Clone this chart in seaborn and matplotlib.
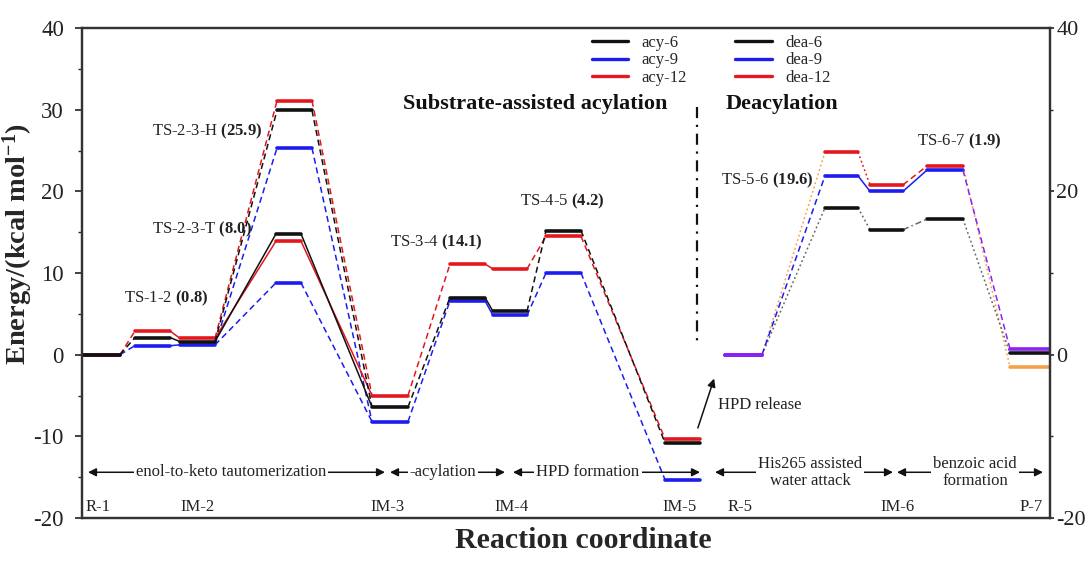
import numpy as np
import pandas as pd
import seaborn as sns
import matplotlib
matplotlib.use("Agg")
import matplotlib.pyplot as plt
from matplotlib.lines import Line2D

# ---------------- data ----------------
acy_points = ["R-1", "TS-1-2", "IM-2", "TS-2-3-T", "TS-2-3-H", "IM-3", "TS-3-4", "IM-4", "TS-4-5", "IM-5"]
acy6 = [0.0, 2.1, 1.6, 14.8, 29.9, -6.4, 7.0, 5.3, 15.2, -10.8]
acy9 = [0.0, 1.1, 1.2, 8.8, 25.3, -8.2, 6.6, 4.8, 10.0, -15.3]
acy12 = [0.0, 2.9, 2.0, 13.9, 31.1, -5.0, 11.1, 10.5, 14.5, -10.3]

dea_points = ["R-5", "TS-5-6", "IM-6", "TS-6-7", "P-7"]
dea6 = [0.0, 18.0, 15.3, 16.6, 0.2]
dea9 = [0.0, 21.9, 20.0, 22.6, 0.7]
dea12 = [0.0, 24.8, 20.8, 23.1, -1.5]

ts_labels = ["TS-1-2", "TS-2-3-T", "TS-2-3-H", "TS-3-4", "TS-4-5", "TS-5-6", "TS-6-7"]
ts_barriers = ["0.8", "8.0", "25.9", "14.1", "4.2", "19.6", "1.9"]

bottom_labels = ["R-1", "IM-2", "IM-3", "IM-4", "IM-5", "R-5", "IM-6", "P-7"]
stage_labels = ["enol-to-keto tautomerization", "-acylation", "HPD formation",
                "His265 assisted\nwater attack", "benzoic acid\nformation"]
legend_labels = ["acy-6", "acy-9", "acy-12", "dea-6", "dea-9", "dea-12"]

# ---------------- layout (reaction-coordinate positions) ----------------
acy_x = {"R-1": (83, 120), "TS-1-2": (135, 170), "IM-2": (180, 215),
         "TS-2-3-T": (276, 301), "TS-2-3-H": (277, 312), "IM-3": (372, 408),
         "TS-3-4": (450, 485), "IM-4": (493, 527), "TS-4-5": (546, 581),
         "IM-5": (665, 700)}
dea_x = {"R-5": (725, 762), "TS-5-6": (825, 858), "IM-6": (870, 903),
         "TS-6-7": (927, 963), "P-7": (1010, 1050)}

C = {"black": "#111111", "blue": "#1c1cf0", "red": "#e3171d",
     "purple": "#8a22f5", "orange": "#f3a24a", "grey": "#666666"}

rows = []
seg = [0]

def add(x0, y0, x1, y1, color, style, kind):
    rows.append(dict(seg=seg[0], x=x0, E=y0, color=color, style=style, kind=kind))
    rows.append(dict(seg=seg[0], x=x1, E=y1, color=color, style=style, kind=kind))
    seg[0] += 1

acy_series = [("blue", acy9), ("red", acy12), ("black", acy6)]
acy_links = [("R-1", "TS-1-2", "dash"), ("TS-1-2", "IM-2", "solid"),
             ("IM-2", "TS-2-3-T", "solidT"), ("TS-2-3-T", "IM-3", "solidT"),
             ("IM-2", "TS-2-3-H", "dash"), ("TS-2-3-H", "IM-3", "dash"),
             ("IM-3", "TS-3-4", "dash"), ("TS-3-4", "IM-4", "solid"),
             ("IM-4", "TS-4-5", "dash"), ("TS-4-5", "IM-5", "dash")]
for col, vals in acy_series:
    v = dict(zip(acy_points, vals))
    for a, b, st in acy_links:
        if st == "solidT":
            st = "dash" if col == "blue" else "solid"
        add(acy_x[a][1], v[a], acy_x[b][0], v[b], col, st, "conn")
    for p in acy_points:
        add(acy_x[p][0], v[p], acy_x[p][1], v[p], col, "solid", "level")

dea_series = [("blue", dea9), ("red", dea12), ("black", dea6)]
dea_link_style = {
    "blue": [("blue", "dash"), ("blue", "solid"), ("blue", "solid"), ("purple", "dash")],
    "red": [("orange", "dot"), ("red", "dot"), ("red", "dash"), ("orange", "dot")],
    "black": [("grey", "dot"), ("grey", "dot"), ("grey", "dashdot"), ("grey", "dot")],
}
dea_level_color = {
    "blue": ["purple", "blue", "blue", "blue", "purple"],
    "red": ["purple", "red", "red", "red", "orange"],
    "black": ["purple", "black", "black", "black", "black"],
}
for col, vals in dea_series:
    for i in range(len(dea_points) - 1):
        a, b = dea_points[i], dea_points[i + 1]
        lc, st = dea_link_style[col][i]
        add(dea_x[a][1], vals[i], dea_x[b][0], vals[i + 1], lc, st, "conn")
    for i, p in enumerate(dea_points):
        add(dea_x[p][0], vals[i], dea_x[p][1], vals[i], dea_level_color[col][i], "solid", "level")

df = pd.DataFrame(rows)

# ---------------- style ----------------
sns.set_theme(style="ticks")
plt.rcParams["font.family"] = ["Liberation Serif", "DejaVu Serif"]
plt.rcParams["mathtext.fontset"] = "custom"
plt.rcParams["mathtext.rm"] = "Liberation Serif"
plt.rcParams["mathtext.bf"] = "Liberation Serif:bold"
plt.rcParams["mathtext.it"] = "Liberation Serif:italic"
plt.rcParams["axes.unicode_minus"] = False

fig = plt.figure(figsize=(10.88, 5.61), dpi=100)
ax = fig.add_axes([82 / 1088, 1 - 518 / 561, (1050 - 82) / 1088, (518 - 28) / 561])

sns.lineplot(data=df, x="x", y="E", hue="color", style="style", size="kind",
             units="seg", estimator=None, sort=False, legend=False,
             hue_order=["orange", "grey", "blue", "purple", "red", "black"],
             palette={k: C[k] for k in C},
             dashes={"solid": "", "dash": (4, 2.5), "dot": (1.2, 1.8), "dashdot": (4, 2, 1, 2)},
             sizes={"level": 2.6, "conn": 1.1}, ax=ax)

ax.set_xlim(82, 1050)
ax.set_ylim(-20, 40)
ax.set_xticks([])
ax.set_yticks(np.arange(-20, 41, 10))
ax.set_yticks(np.arange(-15, 40, 10), minor=True)
ax.tick_params(axis="y", labelsize=16.5, direction="out", length=5, width=1.2, pad=8, colors="#222222")
ax.tick_params(axis="y", which="minor", length=3, width=1)
for s in ax.spines.values():
    s.set_visible(True)
    s.set_linewidth(1.6)
    s.set_color("#333333")

ax2 = ax.twinx()
ax2.set_ylim(-20, 40)
ax2.set_yticks([-20, 0, 20, 40])
ax2.set_yticks([-10, 10, 30], minor=True)
ax2.tick_params(axis="y", labelsize=16, direction="out", length=3, width=1.2, pad=1.5, colors="#222222")
ax2.tick_params(axis="y", which="minor", length=2, width=1)
for s in ax2.spines.values():
    s.set_linewidth(1.6)
    s.set_color("#333333")

ax.set_xlabel("Reaction coordinate", fontsize=21.5, fontweight="bold")
ax.xaxis.set_label_coords(0.518, -0.018)
ax.set_ylabel(r"Energy/(kcal mol$^{\mathbf{-1}}$)", fontsize=20.5, fontweight="bold")
ax.yaxis.set_label_coords(-0.049, 0.56)

# TS annotations
ts_pos = [(166, 6.9), (202, 15.3), (207, 27.4), (436, 13.8), (562, 18.8), (767, 21.3), (959, 26.1)]
for lab, val, (tx, ty) in zip(ts_labels, ts_barriers, ts_pos):
    ax.text(tx, ty, lab + r" $\mathbf{(" + val + r")}$", fontsize=12, ha="center", va="center",
            color="#222222")

# Section titles
ax.text(535, 30.7, "Substrate-assisted acylation", fontsize=16, fontweight="bold",
        ha="center", va="center", color="#111111")
ax.text(782, 30.7, "Deacylation", fontsize=16, fontweight="bold",
        ha="center", va="center", color="#111111")

# dash-dot separator
ax.plot([697, 697], [30.3, 1.0], color="#111111", lw=1.6, ls=(0, (5, 3, 1, 3)))

# HPD release arrow
ax.annotate("", xy=(715, -2.6), xytext=(697, -9.3),
            arrowprops=dict(arrowstyle="-|>", color="#111111", lw=1.1, mutation_scale=12))
ax.text(718, -6.2, "HPD release", fontsize=12, ha="left", va="center", color="#222222")

# Stage arrows
stage_spans = [(88, 385), (390, 505), (513, 700), (715, 893), (897, 1043)]
stage_centers = [231, 443, 588, 810, 975]
for (x0, x1), xc, lab in zip(stage_spans, stage_centers, stage_labels):
    ax.annotate("", xy=(x1, -14.4), xytext=(x0, -14.4),
                arrowprops=dict(arrowstyle="<|-|>", color="#111111", lw=1.1, mutation_scale=12,
                                shrinkA=0, shrinkB=0))
    ax.text(xc, -14.4, lab, fontsize=12, ha="center", va="center", color="#222222",
            linespacing=1.1,
            bbox=dict(facecolor="white", edgecolor="none", pad=1.5))

# bottom labels
bottom_x = [98, 197, 387, 512, 680, 740, 898, 1031]
for bx, lab in zip(bottom_x, bottom_labels):
    ax.text(bx, -18.7, lab, fontsize=12, ha="center", va="center", color="#222222")

# legend
handles = [Line2D([], [], color=C[c], lw=2.4) for c in ["black", "blue", "red", "black", "blue", "red"]]
leg = ax.legend(handles, legend_labels, ncol=2, frameon=False, fontsize=12,
                loc="upper left", bbox_to_anchor=((585 - 82) / 968, 1.0),
                handlelength=2.2, handletextpad=0.8, labelspacing=0.1, columnspacing=2.9,
                borderaxespad=0)

fig.savefig("out.png", dpi=100)
